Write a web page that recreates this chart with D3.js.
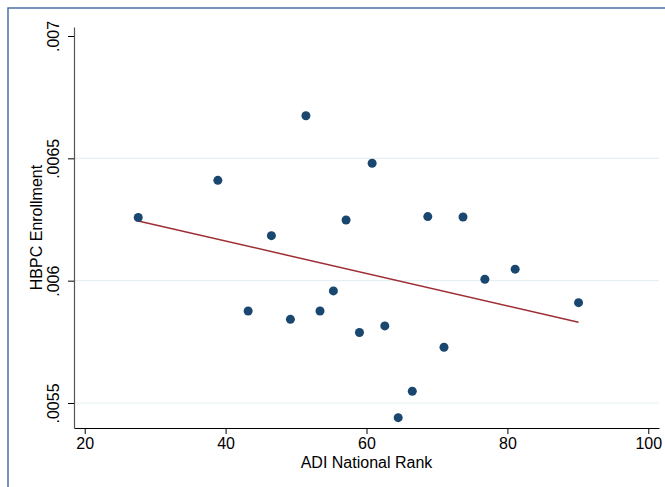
<!DOCTYPE html>
<html>
<head>
<meta charset="utf-8">
<script src="https://cdn.jsdelivr.net/npm/d3@7"></script>
<style>
  html, body { margin: 0; padding: 0; background: #fff; }
  svg text { font-family: "Liberation Sans", Arial, sans-serif; fill: #000; }
</style>
</head>
<body>
<div id="chart"></div>
<script>
(function() {
    // Données
    const adiRank = [27.6, 38.9, 43.2, 46.5, 49.2, 51.4, 53.4, 55.3, 57.1, 59.0,
                     60.8, 62.6, 64.5, 66.5, 68.7, 71.0, 73.7, 76.8, 81.1, 90.1];
    const hbpcEnroll = [.006258, .006410, .005876, .006184, .005842, .006674, .005876, .005958, .006248, .005788,
                        .006480, .005815, .005440, .005548, .006262, .005728, .006260, .006006, .006047, .005910];
    // Droite d'ajustement (extrémités)
    const fitX = [27.6, 90.1];
    const fitY = [.006244, .005830];

    const xTicks = [20, 40, 60, 80, 100];
    const yTicks = [.0055, .006, .0065, .007];
    const gridTicks = [.0055, .006, .0065];

    const width = 665, height = 487;
    const plot = { left: 74, right: 659, top: 27, bottom: 428 };

    const svg = d3.select("#chart").append("svg")
        .attr("width", width)
        .attr("height", height);

    // Cadre extérieur
    svg.append("path")
        .attr("d", `M8,${height} L8,8 L${width},8`)
        .attr("fill", "none")
        .attr("stroke", "#4a70a8")
        .attr("stroke-width", 1.5);

    const xScale = d3.scaleLinear().domain([18.48, 101.52]).range([plot.left, plot.right]);
    const yScale = d3.scaleLinear().domain([.0053978, .0070368]).range([plot.bottom, plot.top]);

    // Lignes de grille
    svg.selectAll(".grid").data(gridTicks).enter().append("line")
        .attr("class", "grid")
        .attr("x1", plot.left).attr("x2", plot.right)
        .attr("y1", d => yScale(d)).attr("y2", d => yScale(d))
        .attr("stroke", "#e6eff1")
        .attr("stroke-width", 1.2);

    // Axe X
    const xAxis = d3.axisBottom(xScale).tickValues(xTicks).tickSizeInner(6).tickSizeOuter(0).tickPadding(4);
    const gx = svg.append("g")
        .attr("transform", `translate(0, ${plot.bottom})`)
        .call(xAxis);
    gx.select(".domain").attr("stroke", "#000").attr("stroke-width", 1.2);
    gx.selectAll(".tick line").attr("stroke", "#000");
    gx.selectAll(".tick text").attr("font-size", 16).attr("fill", "#000");

    // Axe Y
    const yAxis = d3.axisLeft(yScale).tickValues(yTicks).tickSizeInner(6).tickSizeOuter(0)
        .tickFormat(d => String(d).replace(/^0/, ""));
    const gy = svg.append("g")
        .attr("transform", `translate(${plot.left}, 0)`)
        .call(yAxis);
    gy.select(".domain").attr("stroke", "#555").attr("stroke-width", 1.2);
    gy.selectAll(".tick line").attr("stroke", "#000");
    gy.selectAll(".tick text")
        .attr("font-size", 16)
        .attr("fill", "#000")
        .attr("x", 0).attr("dy", 0)
        .attr("text-anchor", "middle")
        .attr("transform", "translate(-15, 0) rotate(-90)");

    // Titres des axes
    svg.append("text")
        .attr("x", (plot.left + plot.right) / 2)
        .attr("y", 468)
        .attr("text-anchor", "middle")
        .attr("font-size", 16)
        .text("ADI National Rank");

    svg.append("text")
        .attr("transform", `translate(42, ${(plot.top + plot.bottom) / 2}) rotate(-90)`)
        .attr("text-anchor", "middle")
        .attr("font-size", 16)
        .text("HBPC Enrollment");

    // Droite d'ajustement
    const line = d3.line().x(d => xScale(d[0])).y(d => yScale(d[1]));
    svg.append("path")
        .attr("d", line(d3.zip(fitX, fitY)))
        .attr("fill", "none")
        .attr("stroke", "#9e2d33")
        .attr("stroke-width", 1.5);

    // Points
    svg.selectAll(".dot").data(d3.zip(adiRank, hbpcEnroll)).enter().append("circle")
        .attr("class", "dot")
        .attr("cx", d => xScale(d[0]))
        .attr("cy", d => yScale(d[1]))
        .attr("r", 4.5)
        .attr("fill", "#1a476f");
})();
</script>
</body>
</html>
